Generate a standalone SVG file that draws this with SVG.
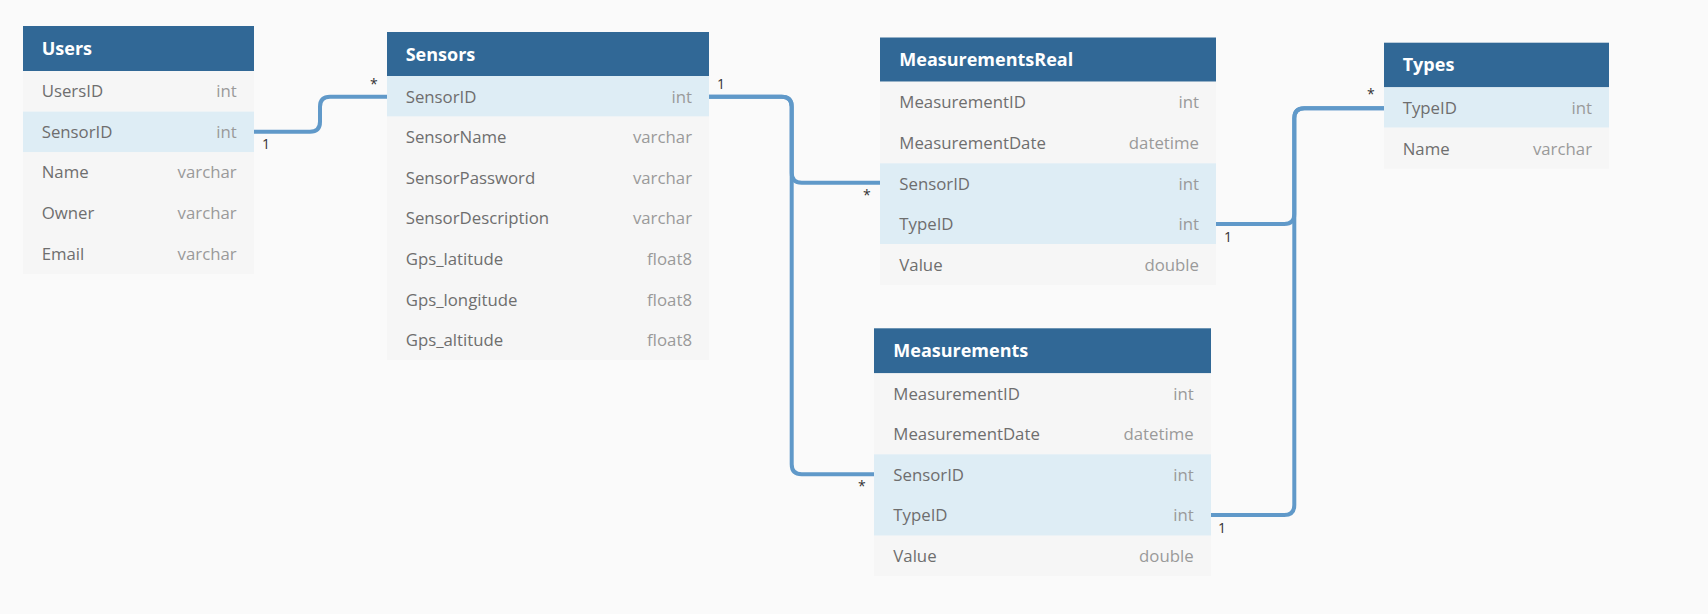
<svg xmlns="http://www.w3.org/2000/svg" width="1708" height="614" viewBox="0 0 1708 614">
<style>
.hdr{fill:#316896}
.row{fill:#f6f6f6}
.key{fill:#deedf5}
.ttl{font-family:"Open Sans","Noto Sans",sans-serif;font-weight:bold;font-size:18px;fill:#ffffff}
.fld{font-family:"Open Sans","Noto Sans",sans-serif;font-size:16.8px;fill:#6e6e6e}
.typ{font-family:"Open Sans","Noto Sans",sans-serif;font-size:16.8px;fill:#9a9a9a;text-anchor:end}
.con{fill:none;stroke:#6099c9;stroke-width:4}
.lbl{font-family:"Open Sans","Noto Sans",sans-serif;font-size:14px;fill:#333333}
</style>
<rect width="1708" height="614" fill="#fafafa"/>
<g id="connectors">
<path class="con" d="M254 131.7 H310 Q320 131.7 320 121.7 V106.7 Q320 96.7 330 96.7 H387"/>
<path class="con" d="M709 96.7 H781.7 Q791.7 96.7 791.7 106.7 V172.7 Q791.7 182.7 801.7 182.7 H880"/>
<path class="con" d="M709 96.7 H781.7 Q791.7 96.7 791.7 106.7 V464.3 Q791.7 474.3 801.7 474.3 H874"/>
<path class="con" d="M1216 224 H1284.3 Q1294.3 224 1294.3 214 V118.3 Q1294.3 108.3 1304.3 108.3 H1384"/>
<path class="con" d="M1211 515 H1284.3 Q1294.3 515 1294.3 505 V118.3 Q1294.3 108.3 1304.3 108.3 H1384"/>
<text class="lbl" x="262" y="148.5">1</text>
<text class="lbl" x="370" y="89">*</text>
<text class="lbl" x="717" y="89">1</text>
<text class="lbl" x="863" y="200">*</text>
<text class="lbl" x="858" y="491">*</text>
<text class="lbl" x="1224" y="242">1</text>
<text class="lbl" x="1218" y="533">1</text>
<text class="lbl" x="1367" y="99">*</text>
</g>
<g id="users">
<rect class="hdr" x="23" y="26" width="231" height="45"/>
<text class="ttl" x="41.7" y="54.9">Users</text>
<rect class="row" x="23" y="71" width="231" height="40.6"/>
<rect class="key" x="23" y="111.6" width="231" height="40.6"/>
<rect class="row" x="23" y="152.2" width="231" height="121.8"/>
<text class="fld" x="41.7" y="97.2">UsersID</text><text class="typ" x="236.7" y="97.2">int</text>
<text class="fld" x="41.7" y="137.8">SensorID</text><text class="typ" x="236.7" y="137.8">int</text>
<text class="fld" x="41.7" y="178.4">Name</text><text class="typ" x="236.7" y="178.4">varchar</text>
<text class="fld" x="41.7" y="219">Owner</text><text class="typ" x="236.7" y="219">varchar</text>
<text class="fld" x="41.7" y="259.6">Email</text><text class="typ" x="236.7" y="259.6">varchar</text>
</g>
<g id="sensors">
<rect class="hdr" x="387" y="32" width="322" height="44"/>
<text class="ttl" x="405.7" y="61.2">Sensors</text>
<rect class="key" x="387" y="76" width="322" height="40.6"/>
<rect class="row" x="387" y="116.6" width="322" height="243.4"/>
<text class="fld" x="405.7" y="102.5">SensorID</text><text class="typ" x="692" y="102.5">int</text>
<text class="fld" x="405.7" y="143.1">SensorName</text><text class="typ" x="692" y="143.1">varchar</text>
<text class="fld" x="405.7" y="183.7">SensorPassword</text><text class="typ" x="692" y="183.7">varchar</text>
<text class="fld" x="405.7" y="224.3">SensorDescription</text><text class="typ" x="692" y="224.3">varchar</text>
<text class="fld" x="405.7" y="264.9">Gps_latitude</text><text class="typ" x="692" y="264.9">float8</text>
<text class="fld" x="405.7" y="305.5">Gps_longitude</text><text class="typ" x="692" y="305.5">float8</text>
<text class="fld" x="405.7" y="346.1">Gps_altitude</text><text class="typ" x="692" y="346.1">float8</text>
</g>
<g id="measurementsreal">
<rect class="hdr" x="880" y="37.5" width="336" height="44.2"/>
<text class="ttl" x="899.3" y="65.9">MeasurementsReal</text>
<rect class="row" x="880" y="81.7" width="336" height="81.6"/>
<rect class="key" x="880" y="163.3" width="336" height="80.7"/>
<rect class="row" x="880" y="244" width="336" height="41"/>
<text class="fld" x="899.3" y="108.2">MeasurementID</text><text class="typ" x="1199" y="108.2">int</text>
<text class="fld" x="899.3" y="148.8">MeasurementDate</text><text class="typ" x="1199" y="148.8">datetime</text>
<text class="fld" x="899.3" y="189.8">SensorID</text><text class="typ" x="1199" y="189.8">int</text>
<text class="fld" x="899.3" y="230.2">TypeID</text><text class="typ" x="1199" y="230.2">int</text>
<text class="fld" x="899.3" y="270.8">Value</text><text class="typ" x="1199" y="270.8">double</text>
</g>
<g id="types">
<rect class="hdr" x="1384" y="42.7" width="225" height="44.6"/>
<text class="ttl" x="1402.7" y="71.2">Types</text>
<rect class="key" x="1384" y="87.3" width="225" height="40.4"/>
<rect class="row" x="1384" y="127.7" width="225" height="41"/>
<text class="fld" x="1402.7" y="114">TypeID</text><text class="typ" x="1592" y="114">int</text>
<text class="fld" x="1402.7" y="154.6">Name</text><text class="typ" x="1592" y="154.6">varchar</text>
</g>
<g id="measurements">
<rect class="hdr" x="874" y="328.3" width="337" height="45"/>
<text class="ttl" x="893.3" y="357.2">Measurements</text>
<rect class="row" x="874" y="373.3" width="337" height="81"/>
<rect class="key" x="874" y="454.3" width="337" height="81.4"/>
<rect class="row" x="874" y="535.7" width="337" height="40.3"/>
<text class="fld" x="893.3" y="400">MeasurementID</text><text class="typ" x="1193.7" y="400">int</text>
<text class="fld" x="893.3" y="440.2">MeasurementDate</text><text class="typ" x="1193.7" y="440.2">datetime</text>
<text class="fld" x="893.3" y="481">SensorID</text><text class="typ" x="1193.7" y="481">int</text>
<text class="fld" x="893.3" y="521.2">TypeID</text><text class="typ" x="1193.7" y="521.2">int</text>
<text class="fld" x="893.3" y="562">Value</text><text class="typ" x="1193.7" y="562">double</text>
</g>
</svg>
